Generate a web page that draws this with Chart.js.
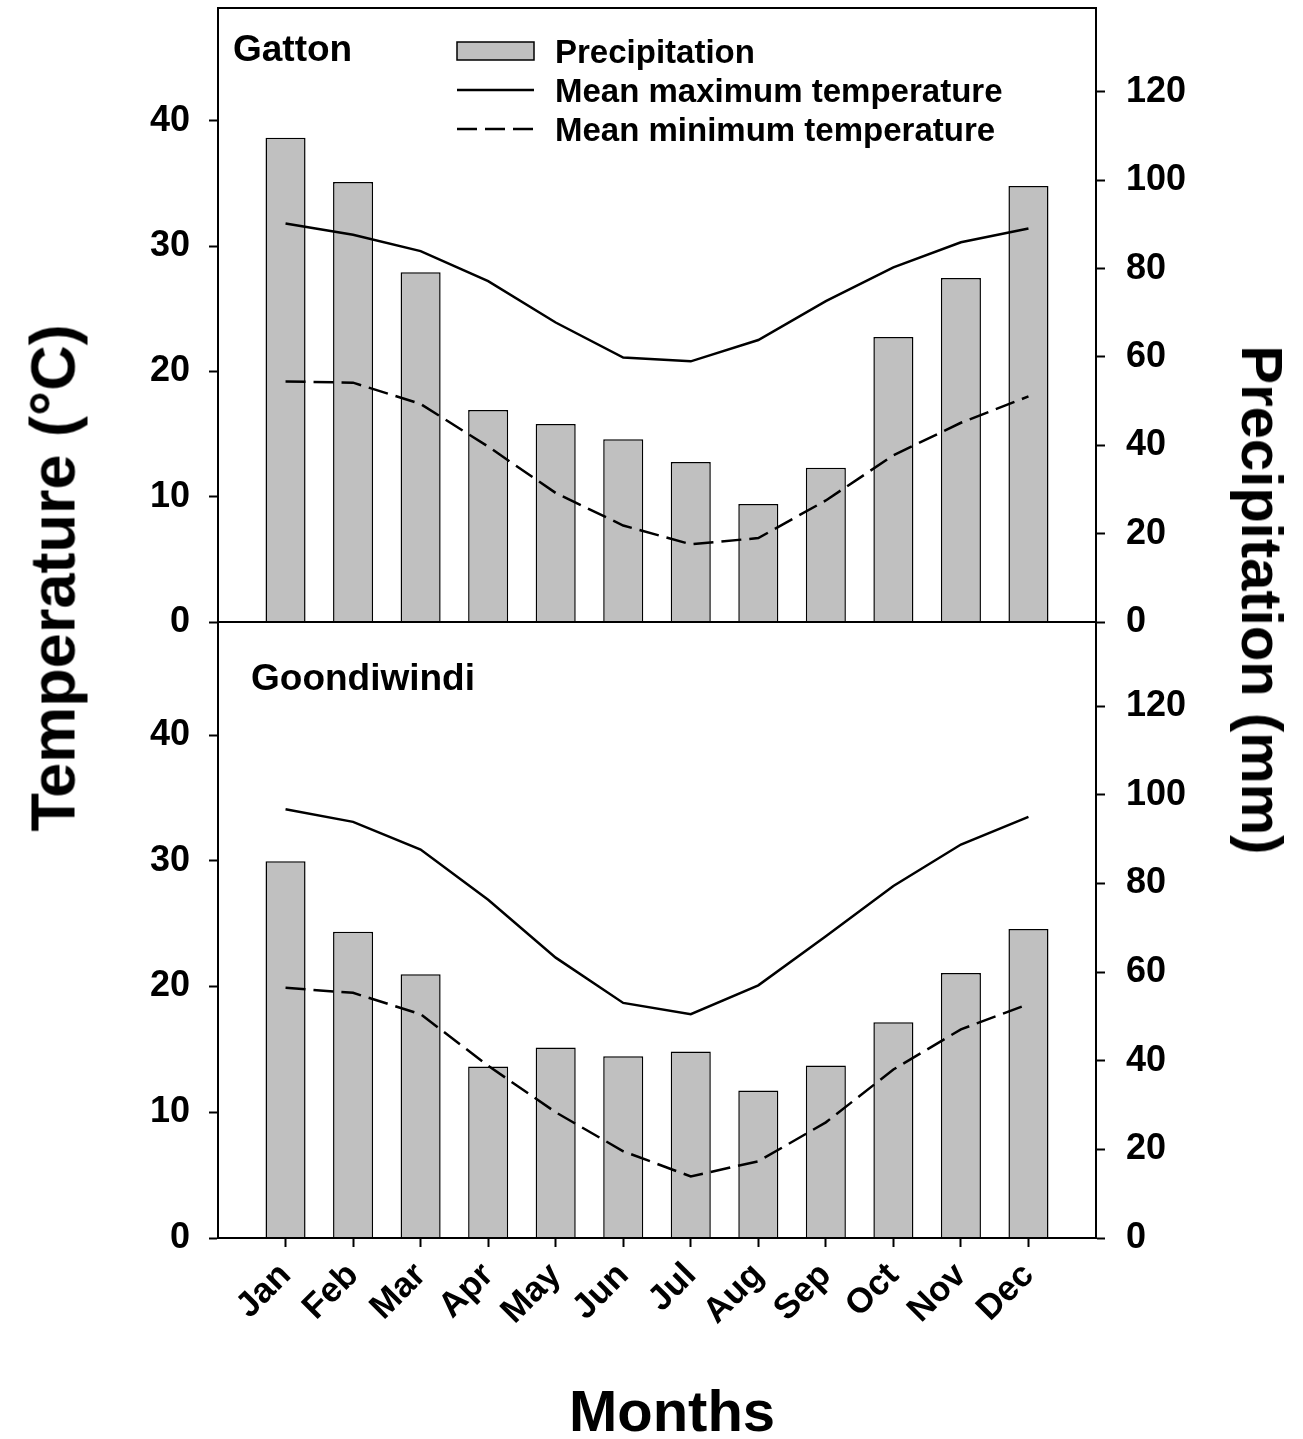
<!DOCTYPE html>
<html><head><meta charset="utf-8">
<script src="https://cdn.jsdelivr.net/npm/chart.js@4/dist/chart.umd.min.js"></script>
<style>
html,body{margin:0;padding:0;background:#fff;overflow:hidden;width:1303px;height:1439px;}
#wrap{position:relative;width:1303px;height:1439px;overflow:hidden;background:#fff;}
canvas{position:absolute;left:0;}
#c1{top:0;}
#c2{top:614px;}
.title{position:absolute;font-family:'Liberation Sans',Arial,sans-serif;font-weight:bold;white-space:nowrap;color:#000;}
#tL{left:53px;top:578px;font-size:63px;line-height:63px;transform:translate(-50%,-50%) rotate(-90deg);}
#tR{left:1262px;top:600px;font-size:58px;line-height:58px;transform:translate(-50%,-50%) rotate(90deg);}
#tX{left:672px;top:1411px;font-size:58px;line-height:58px;transform:translate(-50%,-50%);}
</style></head><body>
<div id="wrap">
<canvas id="c1" width="1303" height="640"></canvas>
<canvas id="c2" width="1303" height="860"></canvas>
<div id="tL" class="title">Temperature (°C)</div>
<div id="tR" class="title">Precipitation (mm)</div>
<div id="tX" class="title">Months</div>
</div>
<script>
// ---- data ----
const MONTHS = ['Jan','Feb','Mar','Apr','May','Jun','Jul','Aug','Sep','Oct','Nov','Dec'];
const SERIES_NAMES = ['Precipitation','Mean maximum temperature','Mean minimum temperature'];
const GATTON_PRECIP = [109.6, 99.6, 79.2, 48.0, 44.8, 41.4, 36.2, 26.7, 34.9, 64.5, 77.9, 98.7];
const GATTON_TMAX   = [31.8, 30.9, 29.6, 27.2, 23.9, 21.1, 20.8, 22.5, 25.6, 28.3, 30.3, 31.4];
const GATTON_TMIN   = [19.2, 19.1, 17.4, 14.0, 10.3, 7.7, 6.2, 6.7, 9.7, 13.3, 15.9, 18.0];
const GOOND_PRECIP  = [85.0, 69.1, 59.5, 38.7, 43.0, 41.0, 42.1, 33.3, 38.9, 48.7, 59.8, 69.7];
const GOOND_TMAX    = [34.1, 33.1, 30.9, 26.9, 22.3, 18.7, 17.8, 20.1, 24.0, 28.0, 31.3, 33.5];
const GOOND_TMIN    = [19.9, 19.5, 17.8, 13.7, 10.0, 6.9, 4.9, 6.1, 9.2, 13.4, 16.6, 18.6];
const TEMP_MAX = 49, TEMP_STEP = 10;
const PRECIP_MAX = 139, PRECIP_STEP = 20;

const FONT = "'Liberation Sans', Arial, sans-serif";
const pad = arr => [null, ...arr, null];
const LABELS = ['', ...MONTHS, ''];

const framePlugin = {
  id: 'frame',
  afterDatasetsDraw(chart) {
    const a = chart.chartArea, ctx = chart.ctx;
    ctx.save();
    ctx.strokeStyle = '#000'; ctx.lineWidth = 2;
    ctx.strokeRect(a.left, a.top, a.right - a.left, a.bottom - a.top);
    ctx.restore();
  }
};

const panelLabelPlugin = {
  id: 'panelLabel',
  afterDraw(chart, args, o) {
    if (!o || !o.text) return;
    const a = chart.chartArea, ctx = chart.ctx;
    ctx.save();
    ctx.font = 'bold 37px ' + FONT;
    ctx.fillStyle = '#000';
    ctx.textBaseline = 'alphabetic';
    ctx.textAlign = 'left';
    ctx.fillText(o.text, a.left + o.dx, a.top + o.dy);
    ctx.restore();
  }
};

const boxLegendPlugin = {
  id: 'boxLegend',
  afterDraw(chart, args, o) {
    if (!o || !o.display) return;
    const a = chart.chartArea, ctx = chart.ctx;
    const x0 = a.left + o.x, y0 = a.top + o.y;
    chart.data.datasets.forEach((ds, i) => {
      const cy = y0 + i * o.rowH;
      ctx.save();
      if ((ds.type || chart.config.type) === 'bar') {
        ctx.fillStyle = ds.backgroundColor;
        ctx.fillRect(x0, cy - o.boxH / 2, o.w, o.boxH);
        ctx.strokeStyle = ds.borderColor; ctx.lineWidth = ds.borderWidth;
        ctx.strokeRect(x0, cy - o.boxH / 2, o.w, o.boxH);
      } else {
        ctx.strokeStyle = ds.borderColor; ctx.lineWidth = ds.borderWidth;
        ctx.setLineDash(ds.borderDash || []);
        ctx.beginPath(); ctx.moveTo(x0, cy); ctx.lineTo(x0 + o.w, cy); ctx.stroke();
      }
      ctx.setLineDash([]);
      ctx.font = 'bold 33px ' + FONT;
      ctx.fillStyle = '#000';
      ctx.textBaseline = 'alphabetic';
      ctx.fillText(ds.label, x0 + o.w + o.gap, cy + 12);
      ctx.restore();
    });
  }
};

function yAxis(position, max, step, width, padding) {
  return {
    type: 'linear', position, min: 0, max,
    afterFit(s) { s.width = width; s.paddingTop = 0; s.paddingBottom = 0; },
    ticks: { stepSize: step, includeBounds: false, color: '#000', padding,
             font: { family: FONT, weight: 'bold', size: 36 } },
    grid: { drawOnChartArea: false, drawTicks: true, tickLength: 9, tickWidth: 2, color: '#000' },
    border: { display: true, color: '#000', width: 2 }
  };
}

function makePanel(id, precip, tmax, tmin, name, showX, showLegend, lab, canvasH, padBottom) {
  const xHeight = canvasH - padBottom - 8 - (showX ? 616 : 614);
  return new Chart(document.getElementById(id), {
    type: 'bar',
    data: {
      labels: LABELS,
      datasets: [
        { type: 'bar', label: SERIES_NAMES[0], data: pad(precip), yAxisID: 'yP',
          backgroundColor: '#c0c0c0', borderColor: '#000', borderWidth: 1.5,
          categoryPercentage: 1, barPercentage: 0.593, order: 2 },
        { type: 'line', label: SERIES_NAMES[1], data: pad(tmax), yAxisID: 'yT',
          borderColor: '#000', borderWidth: 2.5, pointRadius: 0, tension: 0, fill: false, order: 1 },
        { type: 'line', label: SERIES_NAMES[2], data: pad(tmin), yAxisID: 'yT',
          borderColor: '#000', borderWidth: 2.5, borderDash: [20, 8], pointRadius: 0, tension: 0, fill: false, order: 1 }
      ]
    },
    options: {
      responsive: false, animation: false, devicePixelRatio: 1,
      layout: { padding: { top: 8, bottom: padBottom, left: 0, right: 0 } },
      plugins: {
        legend: { display: false }, tooltip: { enabled: false },
        panelLabel: { text: name, dx: lab.dx, dy: lab.dy },
        boxLegend: { display: showLegend, x: 239, y: 43, rowH: 39, w: 77, boxH: 18, gap: 21 }
      },
      scales: {
        x: {
          type: 'category', offset: false, display: showX,
          afterBuildTicks(s) { s.ticks = s.ticks.filter(t => t.value >= 1 && t.value <= MONTHS.length); },
          afterFit(s) { s.paddingLeft = 0; s.paddingRight = 0; if (showX) s.height = xHeight; },
          ticks: { autoSkip: false, maxRotation: 45, minRotation: 45, padding: 8, color: '#000',
                   font: { family: FONT, weight: 'bold', size: 35 } },
          grid: { drawOnChartArea: false, drawTicks: true, tickLength: 9, tickWidth: 2, color: '#000', offset: false },
          border: { display: true, color: '#000', width: 2 },
          title: { display: false }
        },
        yT: yAxis('left', TEMP_MAX, TEMP_STEP, 218, 19),
        yP: yAxis('right', PRECIP_MAX, PRECIP_STEP, 207, 21)
      }
    },
    plugins: [framePlugin, panelLabelPlugin, boxLegendPlugin]
  });
}

makePanel('c1', GATTON_PRECIP, GATTON_TMAX, GATTON_TMIN, 'Gatton', false, true, { dx: 15, dy: 53 }, 640, 18);
makePanel('c2', GOOND_PRECIP, GOOND_TMAX, GOOND_TMIN, 'Goondiwindi', true, false, { dx: 33, dy: 68 }, 860, 0);
</script>
</body></html>
